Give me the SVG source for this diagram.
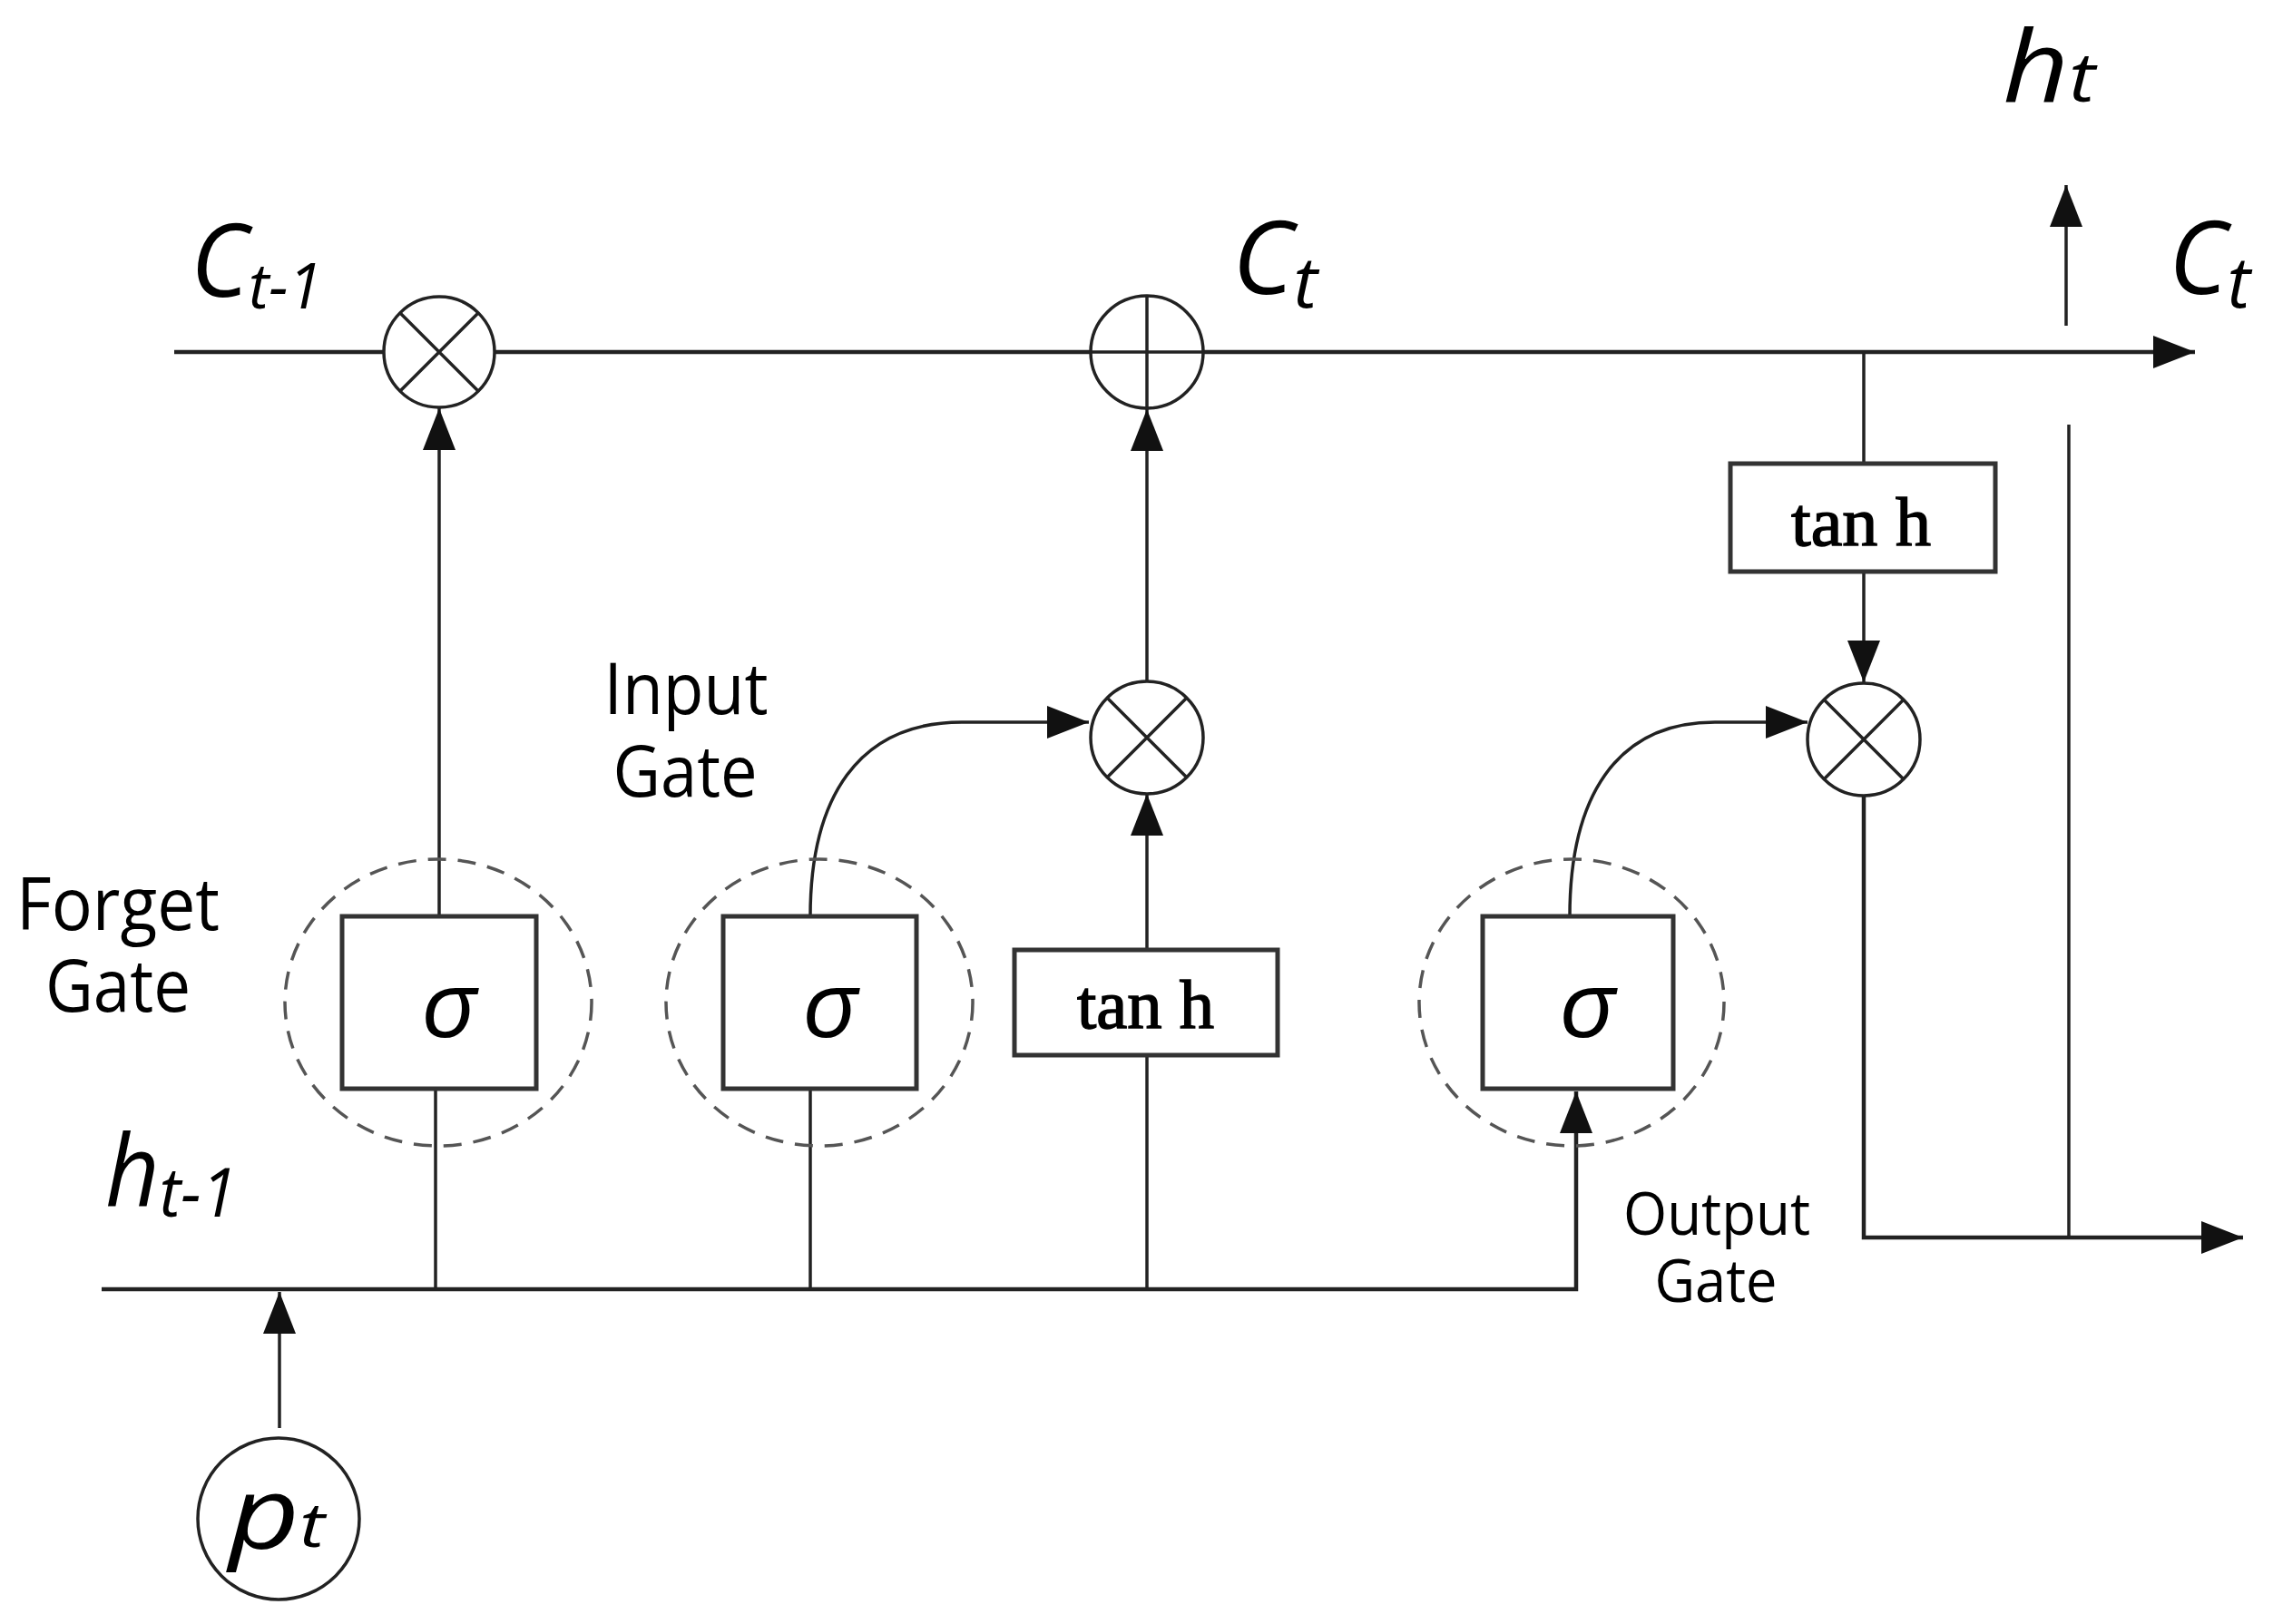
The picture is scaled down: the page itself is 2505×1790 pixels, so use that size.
<svg xmlns="http://www.w3.org/2000/svg" width="2505" height="1790" viewBox="0 0 2505 1790">
<defs>
<style>
.ln{stroke:#222;stroke-width:3.5;fill:none}
.main{stroke:#222;stroke-width:4.5;fill:none}
.box{fill:#fff;stroke:#333;stroke-width:5}
.op{fill:#fff;stroke:#222;stroke-width:3.5}
.x{stroke:#222;stroke-width:3.5;fill:none}
.dash{fill:none;stroke:#555;stroke-width:3.5;stroke-dasharray:20 13}
.lbl{font-family:"Open Sans","Noto Sans",sans-serif;font-weight:500;fill:#000}
.math{font-family:"Open Sans","Noto Sans",sans-serif;font-style:italic;font-weight:400;fill:#000}
.sig{font-family:"Open Sans","Noto Sans",sans-serif;font-style:italic;font-weight:500;font-size:100px;fill:#000}
.tanh{font-family:"Liberation Serif","Times New Roman",serif;font-size:76px;fill:#000;stroke:#000;stroke-width:1.5}
</style>
<marker id="ah" markerUnits="userSpaceOnUse" markerWidth="46" markerHeight="36" refX="46" refY="18" orient="auto">
<path d="M0,0 L46,18 L0,36 z" fill="#111"/>
</marker>
</defs>
<rect width="2505" height="1790" fill="#fff"/>

<g id="connectors">
<path class="main" d="M192,388 L2419,388" marker-end="url(#ah)"/>
<path class="ln" d="M484,1010 L484,450" marker-end="url(#ah)"/>
<path class="ln" d="M480,1200 L480,1421"/>
<path class="ln" d="M893,1010 C893,880 945,796 1060,796 L1200,796" marker-end="url(#ah)"/>
<path class="ln" d="M893,1200 L893,1421"/>
<path class="ln" d="M1264,1046 L1264,875" marker-end="url(#ah)"/>
<path class="ln" d="M1264,1164 L1264,1421"/>
<path class="ln" d="M1264,750 L1264,451" marker-end="url(#ah)"/>
<path class="main" d="M112,1421 L1737,1421 L1737,1203" marker-end="url(#ah)"/>
<path class="ln" d="M308,1574 L308,1424" marker-end="url(#ah)"/>
<path class="ln" d="M1730,1010 C1730,880 1780,796 1890,796 L1992,796" marker-end="url(#ah)"/>
<path class="ln" d="M2054,388 L2054,511"/>
<path class="ln" d="M2054,630 L2054,752" marker-end="url(#ah)"/>
<path class="main" d="M2054,877 L2054,1364 L2472,1364" marker-end="url(#ah)"/>
<path class="ln" d="M2280,468 L2280,1364"/>
<path class="ln" d="M2277,359 L2277,204" marker-end="url(#ah)"/>
</g>

<g id="forget-mult">
<circle class="op" cx="484" cy="388" r="61"/>
<path class="x" d="M441,345 L527,431 M527,345 L441,431"/>
</g>
<g id="add">
<circle class="op" cx="1264" cy="388" r="62"/>
<path class="x" d="M1264,326 L1264,450 M1202,388 L1326,388"/>
</g>
<g id="input-mult">
<circle class="op" cx="1264" cy="813" r="62"/>
<path class="x" d="M1220,769 L1308,857 M1308,769 L1220,857"/>
</g>
<g id="output-mult">
<circle class="op" cx="2054" cy="815" r="62"/>
<path class="x" d="M2010,771 L2098,859 M2098,771 L2010,859"/>
</g>

<g id="forget-gate">
<ellipse class="dash" cx="483" cy="1105" rx="169" ry="158"/>
<rect class="box" x="377" y="1010" width="214" height="190"/>
<text class="sig" x="464" y="1143" textLength="62" lengthAdjust="spacingAndGlyphs">σ</text>
</g>
<g id="input-gate">
<ellipse class="dash" cx="903" cy="1105" rx="169" ry="158"/>
<rect class="box" x="797" y="1010" width="213" height="190"/>
<text class="sig" x="884" y="1143" textLength="62" lengthAdjust="spacingAndGlyphs">σ</text>
</g>
<g id="tanh-mid">
<rect class="box" x="1118" y="1047" width="290" height="116"/>
<text class="tanh" x="1187" y="1133" textLength="151" lengthAdjust="spacingAndGlyphs">tan h</text>
</g>
<g id="output-gate">
<ellipse class="dash" cx="1732" cy="1105" rx="168" ry="158"/>
<rect class="box" x="1634" y="1010" width="210" height="190"/>
<text class="sig" x="1718" y="1143" textLength="63" lengthAdjust="spacingAndGlyphs">σ</text>
</g>
<g id="tanh-out">
<rect class="box" x="1907" y="511" width="292" height="119"/>
<text class="tanh" x="1974" y="601" textLength="154" lengthAdjust="spacingAndGlyphs">tan h</text>
</g>
<g id="pt">
<ellipse class="op" cx="307" cy="1674" rx="89" ry="89"/>
<text class="math" x="252" y="1707" font-size="110" textLength="106" lengthAdjust="spacingAndGlyphs">p<tspan font-size="68" dy="-2">t</tspan></text>
</g>

<g id="labels">
<text class="math" x="210" y="327" font-size="112" textLength="145" lengthAdjust="spacingAndGlyphs">C<tspan font-size="70" dy="13">t-1</tspan></text>
<text class="math" x="1358" y="324" font-size="112" textLength="94" lengthAdjust="spacingAndGlyphs">C<tspan font-size="78" dy="15">t</tspan></text>
<text class="math" x="2390" y="324" font-size="112" textLength="90" lengthAdjust="spacingAndGlyphs">C<tspan font-size="78" dy="15">t</tspan></text>
<text class="math" x="2207" y="112" font-size="109" textLength="102" lengthAdjust="spacingAndGlyphs">h<tspan font-size="75">t</tspan></text>
<text class="math" x="116" y="1329" font-size="109" textLength="145" lengthAdjust="spacingAndGlyphs">h<tspan font-size="75" dy="12">t-1</tspan></text>
<text class="lbl" font-size="80" text-anchor="middle"><tspan x="130" y="1025" textLength="224" lengthAdjust="spacingAndGlyphs">Forget</tspan><tspan x="130" y="1115" textLength="160" lengthAdjust="spacingAndGlyphs">Gate</tspan></text>
<text class="lbl" font-size="78" text-anchor="middle"><tspan x="756" y="787" textLength="181" lengthAdjust="spacingAndGlyphs">Input</tspan><tspan x="755" y="878" textLength="159" lengthAdjust="spacingAndGlyphs">Gate</tspan></text>
<text class="lbl" font-size="66" text-anchor="middle"><tspan x="1892" y="1361" textLength="206" lengthAdjust="spacingAndGlyphs">Output</tspan><tspan x="1891" y="1435" textLength="135" lengthAdjust="spacingAndGlyphs">Gate</tspan></text>
</g>
</svg>
